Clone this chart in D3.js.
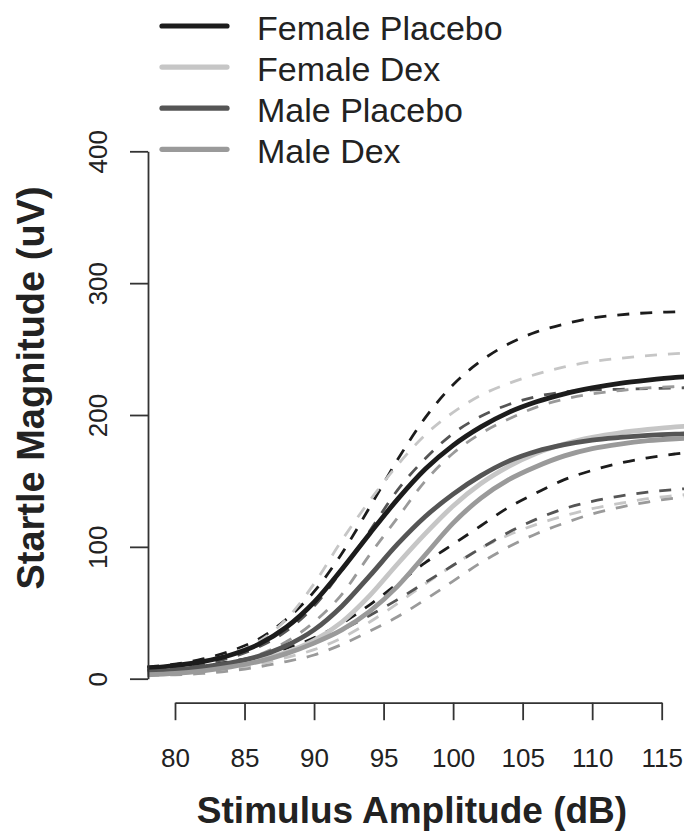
<!DOCTYPE html>
<html><head><meta charset="utf-8">
<script src="https://cdn.jsdelivr.net/npm/d3@7"></script>
<style>body{margin:0;background:#fff}</style>
</head><body>
<svg id="c" width="684" height="835"></svg>
<script>
// ---- data ----
const dB = [78,80,82,84,86,88,90,92,94,96,98,100,102,104,106,108,110,112,114,116,118];

const fpMean  = [8,10,13,18,26,39,58,83,110,136,159,177,191,202,210,216,220.5,224,226.5,228.5,229.5];
const fpUpper = [9,11,15,21,30,45,66,95,130,166,198,223,241,254,263,269,273.5,276,277.5,278.3,279];
const fpLower = [6,7.5,10,13,17,23,31,42,56,72,88,102,116,130,141,151,158,163.5,167.5,170.5,173];

const fdMean  = [4,5,7,10,14,20,29,43,63,87,110,131,148,161,171,178,183,186.5,189,191,192];
const fdUpper = [7,9,13,19,28,45,72,105,135,162,185,202,215,224,231,236.5,240.5,243,245,246.5,247.5];
const fdLower = [3,4,5.5,8,11,16,22,31,43,57,72,86,99,109,117,123.5,129,133,136.5,139,140.5];

const mpMean  = [5,6.5,9,12,17,25,37,55,78,102,123,140,154,165,172.5,177.5,181,183,184.5,185.5,186];
const mpUpper = [6,8,11,16,24,36,55,82,112,143,167,186,199,208,214,217.5,219,219.5,220,220.5,221];
const mpLower = [4,5,7,9,13,19,27,37,48,60,73,86,99,111,121,129,134.5,138.5,141.5,143.5,145];

const mdMean  = [3,4,6,9,13,19,27,37,51,70,94,118,137,151,161,169,174.5,178,180.5,182,183];
const mdUpper = [4,5.5,8,12,18,28,43,64,94,122,150,171,186,197,206,212,216,218.5,220.5,221.5,222];
const mdLower = [2.5,3,4,6,9,13,18,26,36,47,60,74,88,100,110,118,125,130,134,137,138.5];

const groups = ["Female Placebo","Female Dex","Male Placebo","Male Dex"];
const xTicks = [80,85,90,95,100,105,110,115];
const yTicks = [0,100,200,300,400];
const xTitle = "Stimulus Amplitude (dB)";
const yTitle = "Startle Magnitude (uV)";

// ---- styles ----
const colors = {"Female Placebo":"#1c1c1c","Female Dex":"#c6c6c6","Male Placebo":"#555555","Male Dex":"#9a9a9a"};
const font = "'Liberation Sans', Arial, Helvetica, sans-serif";

const series = [
  {g:"Female Placebo", mean:fpMean, up:fpUpper, lo:fpLower},
  {g:"Female Dex",     mean:fdMean, up:fdUpper, lo:fdLower},
  {g:"Male Placebo",   mean:mpMean, up:mpUpper, lo:mpLower},
  {g:"Male Dex",       mean:mdMean, up:mdUpper, lo:mdLower}
];

const svg = d3.select("#c");
const x = d3.scaleLinear().domain([80,115]).range([175,661.7]);
const y = d3.scaleLinear().domain([0,400]).range([678.7,151.3]);

svg.append("defs").append("clipPath").attr("id","clip")
  .append("rect").attr("x",x(78)).attr("y",100).attr("width",684-x(78)).attr("height",602);

const line = vals => d3.line().x((d,i)=>x(dB[i])).y(d=>y(d)).curve(d3.curveMonotoneX)(vals);

const plot = svg.append("g").attr("clip-path","url(#clip)");
// dashed confidence bands
series.forEach(s=>{
  [s.up, s.lo].forEach(v=>{
    plot.append("path").attr("d",line(v)).attr("fill","none")
      .attr("stroke",colors[s.g]).attr("stroke-width",2.8)
      .attr("stroke-dasharray","12,11");
  });
});
// solid means
series.forEach(s=>{
  plot.append("path").attr("d",line(s.mean)).attr("fill","none")
    .attr("stroke",colors[s.g]).attr("stroke-width",4.8)
    .attr("stroke-linecap","butt");
});

// ---- axes ----
const xa = svg.append("g").attr("transform",`translate(0,702.7)`)
  .call(d3.axisBottom(x).tickValues(xTicks).tickSize(17.5).tickSizeOuter(0));
xa.select(".domain").attr("stroke","#333").attr("stroke-width",1.8);
xa.selectAll(".tick line").attr("stroke","#333").attr("stroke-width",1.8);
xa.selectAll(".tick text").attr("y",64).attr("dy",0)
  .attr("font-family",font).attr("font-size",26).attr("fill","#222");

const ya = svg.append("g").attr("transform",`translate(148,0)`)
  .call(d3.axisLeft(y).tickValues(yTicks).tickSize(18).tickSizeOuter(0));
ya.select(".domain").attr("stroke","#333").attr("stroke-width",1.8);
ya.selectAll(".tick line").attr("stroke","#333").attr("stroke-width",1.8);
ya.selectAll(".tick text").attr("x",0).attr("y",0).attr("dy",0)
  .attr("transform","translate(-41.3,0) rotate(-90)")
  .attr("text-anchor","middle")
  .attr("font-family",font).attr("font-size",26).attr("fill","#222");
svg.selectAll(".domain").attr("fill","none");

// titles
svg.append("text").attr("x",412).attr("y",823).attr("text-anchor","middle")
  .attr("font-family",font).attr("font-weight","bold").attr("font-size",37)
  .attr("fill","#222").text(xTitle);
svg.append("text").attr("transform","translate(44,388) rotate(-90)").attr("text-anchor","middle")
  .attr("font-family",font).attr("font-weight","bold").attr("font-size",38)
  .attr("fill","#222").text(yTitle);

// ---- legend ----
const leg = svg.append("g");
groups.forEach((g,i)=>{
  const ly = 26 + i*41.1;
  leg.append("line").attr("x1",162).attr("x2",227).attr("y1",ly).attr("y2",ly)
    .attr("stroke",colors[g]).attr("stroke-width",5.2).attr("stroke-linecap","round");
  leg.append("text").attr("x",257).attr("y",ly+13.5)
    .attr("font-family",font).attr("font-size",34).attr("fill","#222").text(g);
});
</script>
</body></html>
